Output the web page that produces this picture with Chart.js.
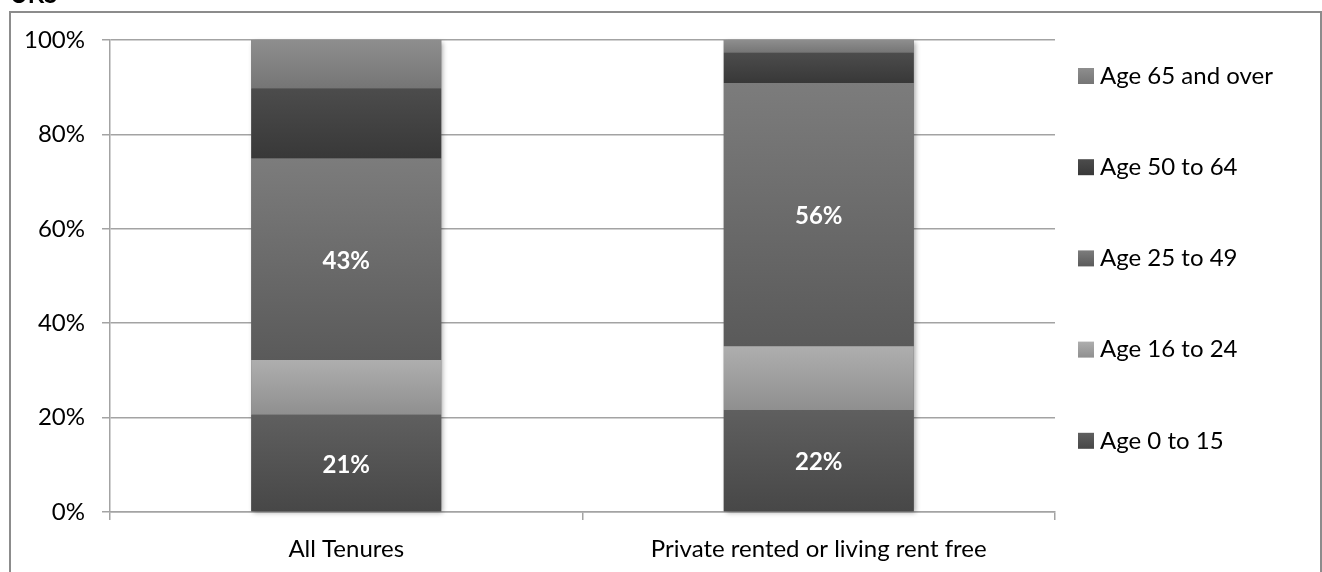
<!DOCTYPE html>
<html>
<head>
<meta charset="utf-8">
<script src="https://cdn.jsdelivr.net/npm/chart.js@4.4.1/dist/chart.umd.min.js"></script>
<style>
  html, body { margin: 0; padding: 0; background: #fff; overflow: hidden; }
  canvas { display: block; }
</style>
</head>
<body>
<canvas id="c" width="1322" height="572"></canvas>
<script>
// Share of people by age band, per tenure (percent of each bar)
const categories = ['All Tenures', 'Private rented or living rent free'];
const seriesNames = ['Age 0 to 15', 'Age 16 to 24', 'Age 25 to 49', 'Age 50 to 64', 'Age 65 and over'];
const age0to15  = [20.6, 21.6];
const age16to24 = [11.6, 13.5];
const age25to49 = [42.7, 55.8];
const age50to64 = [14.8, 6.4];
const age65plus = [10.3, 2.7];
const yTickValues = [0, 20, 40, 60, 80, 100];
const labelledSeries = [0, 2];   // bands that carry a value label
const headingText = 'UKS';

const seriesValues = [age0to15, age16to24, age25to49, age50to64, age65plus];
// top / bottom shade of each band's vertical gradient
const shades = [
  ['#5f5f5f', '#474747'],
  ['#aeaeae', '#8f8f8f'],
  ['#7c7c7c', '#5a5a5a'],
  ['#4c4c4c', '#383838'],
  ['#8e8e8e', '#757575']
];

const FONT = 'Lato, "Open Sans", sans-serif';
const GRID = '#a3a3a3';

function segmentFill(ctx) {
  const d = ctx.datasetIndex;
  const chart = ctx.chart;
  const ys = chart.scales && chart.scales.y;
  if (ctx.type !== 'data' || !ys) return shades[d][0];
  const i = ctx.dataIndex;
  let below = 0;
  for (let k = 0; k < d; k++) below += seriesValues[k][i];
  const top = ys.getPixelForValue(below + seriesValues[d][i]);
  const bot = ys.getPixelForValue(below);
  if (!isFinite(top) || !isFinite(bot) || top === bot) return shades[d][0];
  const g = chart.ctx.createLinearGradient(0, top, 0, bot);
  g.addColorStop(0, shades[d][0]);
  g.addColorStop(1, shades[d][1]);
  return g;
}

// outer frame and the clipped heading above it
const framePlugin = {
  id: 'frame',
  beforeDraw(chart) {
    const c = chart.ctx;
    c.save();
    c.fillStyle = '#fff';
    c.fillRect(0, 0, chart.width, chart.height);
    c.strokeStyle = '#8c8c8c';
    c.lineWidth = 2;
    c.strokeRect(10, 12, 1311, 620);
    c.fillStyle = '#000';
    c.font = 'bold 24px ' + FONT;
    c.textBaseline = 'alphabetic';
    c.textAlign = 'left';
    c.fillText(headingText, 10, 3);
    c.restore();
  }
};

// soft drop shadow behind each whole stacked column
const shadowPlugin = {
  id: 'columnShadow',
  beforeDatasetsDraw(chart) {
    const c = chart.ctx;
    const first = chart.getDatasetMeta(0).data;
    const last = chart.getDatasetMeta(seriesValues.length - 1).data;
    c.save();
    c.shadowColor = 'rgba(0,0,0,0.35)';
    c.shadowBlur = 5;
    c.shadowOffsetX = 2;
    c.shadowOffsetY = 2;
    c.fillStyle = '#666';
    first.forEach((el, i) => {
      const top = last[i].y;
      const bot = el.base;
      c.fillRect(el.x - el.width / 2, top, el.width, bot - top);
    });
    c.restore();
  }
};

// value labels inside the labelled bands
const valueLabelPlugin = {
  id: 'valueLabels',
  afterDatasetsDraw(chart) {
    const c = chart.ctx;
    c.save();
    c.fillStyle = '#fff';
    c.font = 'bold 24px ' + FONT;
    c.textAlign = 'center';
    c.textBaseline = 'middle';
    labelledSeries.forEach(d => {
      chart.getDatasetMeta(d).data.forEach((el, i) => {
        const v = seriesValues[d][i];
        c.fillText(Math.round(v) + '%', el.x, (el.y + el.base) / 2 + 2);
      });
    });
    c.restore();
  }
};

// legend column on the right, highest band first
const legendPlugin = {
  id: 'sideLegend',
  afterDraw(chart) {
    const c = chart.ctx;
    const x0 = 1078, box = 16, firstY = 76, step = 91.2;
    c.save();
    c.font = '24px ' + FONT;
    c.textAlign = 'left';
    c.textBaseline = 'middle';
    for (let n = 0; n < seriesNames.length; n++) {
      const d = seriesNames.length - 1 - n;
      const cy = firstY + n * step;
      const g = c.createLinearGradient(0, cy - box / 2, 0, cy + box / 2);
      g.addColorStop(0, shades[d][0]);
      g.addColorStop(1, shades[d][1]);
      c.fillStyle = g;
      c.fillRect(x0, cy - box / 2, box, box);
      c.fillStyle = '#000';
      c.fillText(seriesNames[d], x0 + 22, cy);
    }
    c.restore();
  }
};

new Chart(document.getElementById('c'), {
  type: 'bar',
  data: {
    labels: categories,
    datasets: seriesValues.map((vals, d) => ({
      label: seriesNames[d],
      data: vals,
      backgroundColor: segmentFill,
      borderWidth: 0,
      barPercentage: 0.402,
      categoryPercentage: 1
    }))
  },
  options: {
    responsive: false,
    devicePixelRatio: 1,
    animation: false,
    events: [],
    layout: { padding: { left: 0, top: 40, right: 267, bottom: 0 } },
    plugins: {
      legend: { display: false },
      tooltip: { enabled: false },
      title: { display: false }
    },
    scales: {
      x: {
        stacked: true,
        offset: true,
        grid: { offset: true, drawOnChartArea: false, drawTicks: true, tickLength: 8, color: GRID, lineWidth: 1.5 },
        border: { color: GRID, width: 1.5 },
        ticks: { color: '#000', font: { family: FONT, size: 24 }, padding: 15, maxRotation: 0 },
        afterFit(s) { s.height = 60; }
      },
      y: {
        stacked: true,
        min: 0,
        max: 100,
        afterBuildTicks(s) { s.ticks = yTickValues.map(v => ({ value: v })); },
        grid: { color: GRID, lineWidth: 1.5, tickLength: 8 },
        border: { color: GRID, width: 1.5 },
        ticks: { color: '#000', font: { family: FONT, size: 24 }, padding: 17, callback: v => v + '%' },
        afterFit(s) { s.width = 110; }
      }
    }
  },
  plugins: [framePlugin, shadowPlugin, valueLabelPlugin, legendPlugin]
});
</script>
</body>
</html>
